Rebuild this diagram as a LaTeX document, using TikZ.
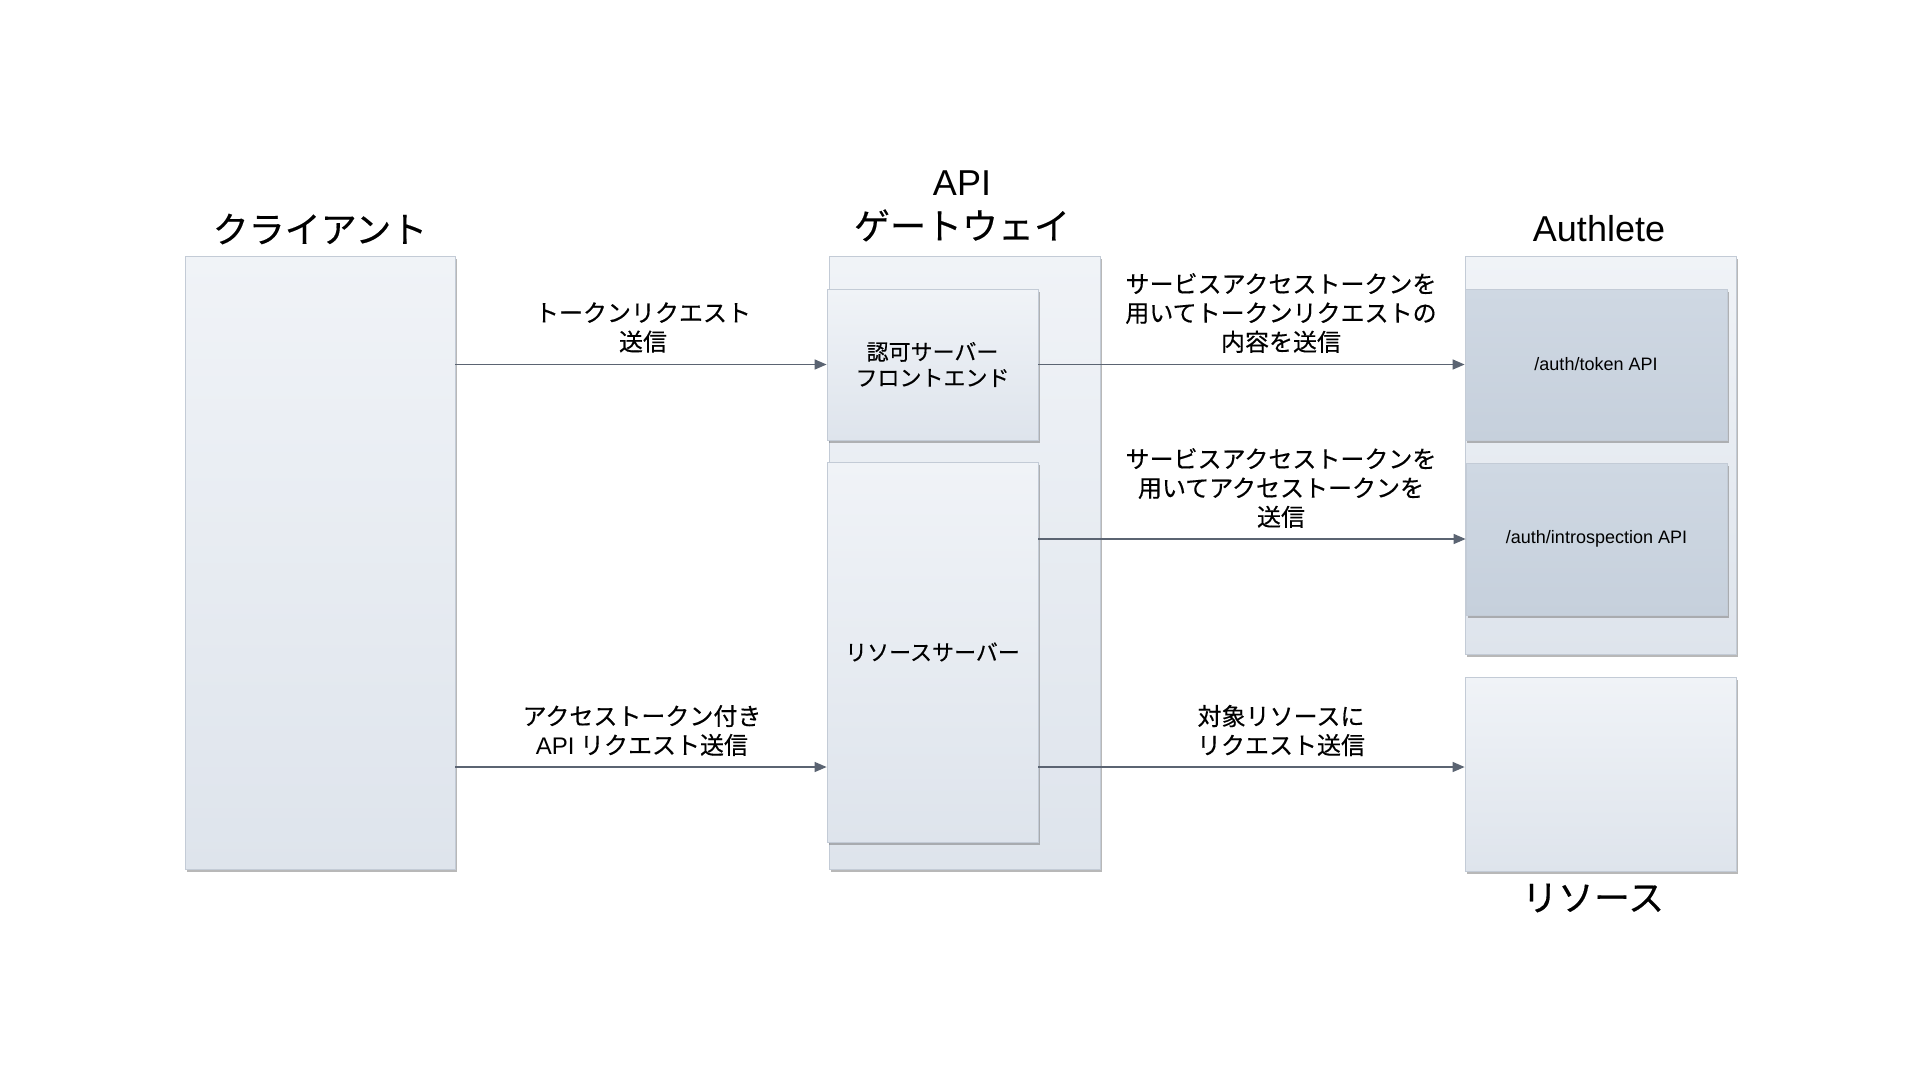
\documentclass[tikz,border=0pt]{standalone}
\usepackage{fontspec}
\setmainfont{Liberation Sans}
\newfontfamily\jp{Noto Sans CJK JP}[UprightFeatures={FakeBold=0.35}]
\usetikzlibrary{arrows.meta,shadows}
\definecolor{boxtop}{HTML}{F0F3F7}
\definecolor{boxbot}{HTML}{DEE4EC}
\definecolor{apitop}{HTML}{CFD8E3}
\definecolor{apibot}{HTML}{C6D0DC}
\definecolor{boxline}{HTML}{C3CBD6}
\definecolor{arrowgray}{HTML}{5B6472}
\begin{document}
\begin{tikzpicture}[
    x=1pt, y=-1pt,
    box/.style={rectangle, draw=boxline, line width=0.8pt, top color=boxtop, bottom color=boxbot,
        drop shadow={shadow xshift=1.5pt, shadow yshift=-2.5pt, opacity=0.5, fill=black!55}},
    apibox/.style={box, top color=apitop, bottom color=apibot},
    title/.style={align=center, font={\fontsize{36}{44}\selectfont}},
    inner/.style={align=center, font={\jp\fontsize{22}{26}\selectfont}},
    label/.style={align=center, font={\jp\fontsize{24}{29}\selectfont}},
    arrow/.style={-{Triangle[length=12pt,width=10pt]}, line width=1.4pt, arrowgray}
]
\fill[white] (0,0) rectangle (1920,1080);
\useasboundingbox (0,0) rectangle (1920,1080);

% Columns
\node[box, minimum width=270pt, minimum height=613pt] (client) at (320,562.5) {};
\node[box, minimum width=271pt, minimum height=613pt] (gateway) at (964.5,562.5) {};
\node[box, minimum width=271pt, minimum height=398pt] (authlete) at (1600.5,455) {};
\node[box, minimum width=271pt, minimum height=194pt] (resource) at (1600.5,774) {};

% Gateway components
\node[box, inner, minimum width=211pt, minimum height=151pt] (front) at (932.5,364.5) {認可サーバー\\フロントエンド};
\node[box, inner, minimum width=211pt, minimum height=380pt] (rserver) at (932.5,652) {リソースサーバー};

% Authlete APIs
\node[apibox, minimum width=262pt, minimum height=151pt, font=\fontsize{18}{22}\selectfont] (token) at (1596,364.5) {/auth/token API};
\node[apibox, minimum width=261pt, minimum height=152pt, font=\fontsize{18}{22}\selectfont] (intro) at (1596.5,539) {/auth/introspection API};

% Titles
\node[title] (t_client) at (320,229) {\jp クライアント};
\node[title] (t_gateway) at (962,206) {API\\{\jp ゲートウェイ}};
\node[title] (t_authlete) at (1599,229) {Authlete};
\node[title] (t_resource) at (1593,898) {\jp リソース};

% Arrows
\coordinate (apilvl) at (0,767);
\draw[arrow] (client.east |- front.west) -- (front.west);
\draw[arrow] (front.east) -- (token.west);
\draw[arrow] (rserver.east |- intro.west) -- (intro.west);
\draw[arrow] (client.east |- apilvl) -- (rserver.west |- apilvl);
\draw[arrow] (rserver.east |- apilvl) -- (resource.west |- apilvl);

% Arrow labels
\node[label] (l_token) at (643,327.5) {トークンリクエスト\\送信};
\node[label] (l_svc1) at (1281,313) {サービスアクセストークンを\\用いてトークンリクエストの\\内容を送信};
\node[label] (l_svc2) at (1281,488) {サービスアクセストークンを\\用いてアクセストークンを\\送信};
\node[label] (l_api) at (642,730.5) {アクセストークン付き\\{\rmfamily API} リクエスト送信};
\node[label] (l_res) at (1281,730.5) {対象リソースに\\リクエスト送信};

\end{tikzpicture}
\end{document}
